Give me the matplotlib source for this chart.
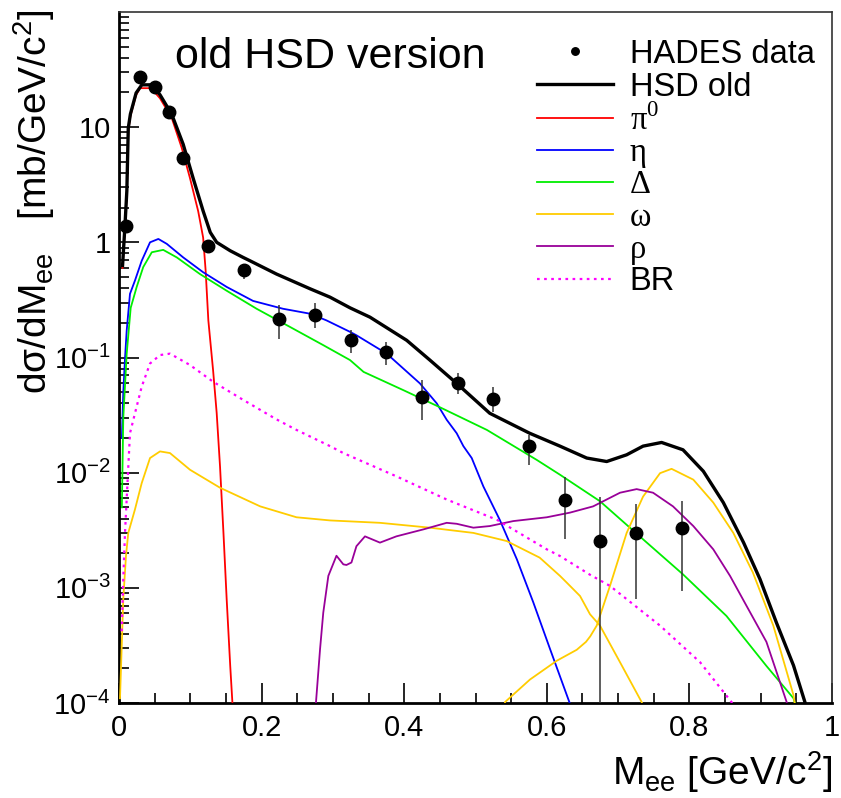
import numpy as np
import matplotlib
matplotlib.use('Agg')
import matplotlib.pyplot as plt
from matplotlib.ticker import MultipleLocator, FixedLocator, NullFormatter

plt.rcParams['font.family'] = ['Liberation Sans', 'DejaVu Sans']
plt.rcParams['mathtext.fontset'] = 'custom'
plt.rcParams['mathtext.rm'] = 'Liberation Sans'
plt.rcParams['mathtext.it'] = 'Liberation Sans:italic'
plt.rcParams['mathtext.bf'] = 'Liberation Sans:bold'

# HADES data points with asymmetric errors
data_m = [0.010, 0.030, 0.050, 0.070, 0.090, 0.125, 0.175, 0.225, 0.275, 0.325,
          0.375, 0.425, 0.475, 0.525, 0.575, 0.625, 0.675, 0.725, 0.790]
data_y = [1.39, 27.5, 22.1, 13.5, 5.4, 0.92, 0.57, 0.214, 0.232, 0.141,
          0.111, 0.0454, 0.060, 0.0437, 0.0171, 0.00585, 0.00254, 0.0030, 0.00328]
data_lo = [1.25, 26.0, 21.0, 12.8, 5.1, 0.82, 0.48, 0.144, 0.179, 0.109,
           0.086, 0.0287, 0.048, 0.0337, 0.0117, 0.00264, 1e-5, 0.0008, 0.00094]
data_hi = [1.55, 29.0, 23.2, 14.2, 5.7, 1.02, 0.65, 0.283, 0.300, 0.172,
           0.136, 0.064, 0.073, 0.055, 0.0213, 0.0092, 0.0062, 0.0053, 0.0057]

# HSD old total
hsd_m = [0.005, 0.0085, 0.011, 0.013, 0.016, 0.024, 0.032, 0.046, 0.0575, 0.074,
         0.090, 0.104, 0.118, 0.128, 0.137, 0.156, 0.174, 0.184, 0.221, 0.268,
         0.296, 0.324, 0.352, 0.4035, 0.436, 0.4736, 0.520, 0.576, 0.6185, 0.656,
         0.684, 0.712, 0.735, 0.761, 0.791, 0.8195, 0.8476, 0.876, 0.899, 0.922,
         0.946, 0.962, 0.970]
hsd_y = [0.63, 1.45, 2.8, 9.8, 13.0, 19.8, 23.3, 23.3, 19.1, 12.9,
         7.1, 3.6, 1.87, 1.22, 1.0, 0.845, 0.74, 0.69, 0.53, 0.395,
         0.334, 0.27, 0.224, 0.141, 0.095, 0.0596, 0.0328, 0.022, 0.017, 0.0134,
         0.0125, 0.0143, 0.017, 0.0183, 0.0158, 0.0103, 0.0055, 0.00247, 0.00119, 0.0005,
         0.000212, 0.000102, 0.00005]

# pi0 Dalitz
pi0_m = [0.005, 0.0085, 0.011, 0.013, 0.016, 0.024, 0.0295, 0.045, 0.0575, 0.074,
         0.088, 0.0996, 0.111, 0.1136, 0.118, 0.1215, 0.1253, 0.132, 0.137, 0.1417,
         0.1465, 0.151, 0.156, 0.159, 0.161]
pi0_y = [0.6, 1.4, 2.7, 9.3, 12.5, 19.0, 21.8, 21.8, 17.8, 12.0,
         6.6, 3.6, 1.87, 1.54, 1.1, 0.57, 0.21, 0.077, 0.033, 0.0113,
         0.003, 0.0008, 0.00021, 0.000102, 0.00005]

# eta Dalitz
eta_m = [0.004, 0.006, 0.0085, 0.0108, 0.0154, 0.0224, 0.0318, 0.0435, 0.0552, 0.067,
         0.090, 0.118, 0.151, 0.188, 0.230, 0.268, 0.291, 0.324, 0.333, 0.3755,
         0.422, 0.4456, 0.4596, 0.4736, 0.483, 0.4947, 0.511, 0.534, 0.558, 0.581,
         0.6045, 0.6316, 0.640]
eta_y = [0.02, 0.05, 0.1, 0.172, 0.357, 0.466, 0.69, 1.0, 1.07, 0.97,
         0.74, 0.55, 0.41, 0.31, 0.265, 0.24, 0.21, 0.167, 0.156, 0.108,
         0.0596, 0.040, 0.0288, 0.022, 0.017, 0.0134, 0.0076, 0.0039, 0.00177, 0.00075,
         0.000295, 0.000102, 0.00007]

# Delta Dalitz
delta_m = [0.004, 0.006, 0.0108, 0.0164, 0.0248, 0.034, 0.046, 0.062, 0.081, 0.1136,
           0.151, 0.193, 0.240, 0.2865, 0.324, 0.343, 0.399, 0.450, 0.516, 0.586,
           0.6185, 0.6746, 0.735, 0.791, 0.852, 0.908, 0.946, 0.950]
delta_y = [0.005, 0.03, 0.108, 0.27, 0.41, 0.61, 0.82, 0.86, 0.74, 0.53,
           0.38, 0.265, 0.184, 0.128, 0.095, 0.075, 0.052, 0.037, 0.0235, 0.0129,
           0.0096, 0.00565, 0.00264, 0.00131, 0.00057, 0.00021, 0.00011, 0.00009]

# omega Dalitz
omd_m = [0.0014, 0.006, 0.0098, 0.013, 0.0224, 0.0318, 0.0435, 0.0575, 0.0715, 0.0996,
         0.1417, 0.198, 0.249, 0.296, 0.366, 0.436, 0.497, 0.5437, 0.590, 0.6185,
         0.628, 0.6466, 0.6606, 0.6746, 0.7027, 0.733, 0.740]
omd_y = [0.00011, 0.0008, 0.0019, 0.003, 0.0048, 0.0081, 0.0134, 0.0153, 0.0148, 0.0106,
         0.0074, 0.0051, 0.0041, 0.00385, 0.00367, 0.00333, 0.003, 0.00255, 0.00183, 0.00127,
         0.00111, 0.00085, 0.00059, 0.00047, 0.000226, 0.000102, 0.00008]

# omega direct
omg_m = [0.540, 0.5414, 0.5764, 0.614, 0.642, 0.655, 0.661, 0.670, 0.6886, 0.712,
         0.735, 0.7588, 0.775, 0.8055, 0.8335, 0.8616, 0.889, 0.9177, 0.946, 0.950]
omg_y = [0.00008, 0.000102, 0.00016, 0.000233, 0.00029, 0.00034, 0.00038, 0.00047, 0.00104, 0.003,
         0.0062, 0.0099, 0.0108, 0.0087, 0.0055, 0.003, 0.00136, 0.00047, 0.000117, 0.00008]

# rho
rho_m = [0.275, 0.2763, 0.282, 0.2865, 0.2936, 0.305, 0.3146, 0.319, 0.326, 0.333,
         0.345, 0.366, 0.389, 0.427, 0.4596, 0.4736, 0.497, 0.520, 0.553, 0.600,
         0.6325, 0.665, 0.7027, 0.726, 0.749, 0.777, 0.8055, 0.8335, 0.857, 0.880,
         0.908, 0.9364, 0.940]
rho_y = [0.00008, 0.000102, 0.000295, 0.00061, 0.00127, 0.0019, 0.0016, 0.00158, 0.00166, 0.0023,
         0.0028, 0.00247, 0.0028, 0.00322, 0.00367, 0.0036, 0.00333, 0.00344, 0.0038, 0.0041,
         0.0045, 0.0051, 0.0067, 0.0072, 0.0067, 0.0051, 0.00344, 0.00216, 0.00127, 0.0007,
         0.00034, 0.000102, 0.00008]

# bremsstrahlung
br_m = [0.0038, 0.006, 0.0084, 0.0154, 0.0224, 0.0318, 0.0435, 0.0575, 0.0715, 0.0996,
        0.132, 0.1743, 0.221, 0.249, 0.296, 0.3146, 0.389, 0.4596, 0.530, 0.600,
        0.6185, 0.6606, 0.6886, 0.7588, 0.815, 0.859, 0.870]
br_y = [0.00042, 0.0012, 0.003, 0.022, 0.0328, 0.0557, 0.0887, 0.105, 0.108, 0.086,
        0.0616, 0.0428, 0.029, 0.0235, 0.017, 0.0148, 0.0093, 0.00585, 0.0039, 0.00216,
        0.00189, 0.0013, 0.00104, 0.00047, 0.000226, 0.000102, 0.00008]

y_ticks = [1e-4, 1e-3, 1e-2, 1e-1, 1, 10]
y_ticklabels = [r'$\mathregular{10^{-4}}$', r'$\mathregular{10^{-3}}$',
                r'$\mathregular{10^{-2}}$', r'$\mathregular{10^{-1}}$', '1', '10']

fig = plt.figure(figsize=(8.41, 7.98), dpi=100)
ax = fig.add_axes([0.1415, 0.119, 0.8478, 0.866])

lw = 1.3
l_red, = ax.plot(pi0_m, pi0_y, color='#ff0000', lw=lw, zorder=3)
l_blue, = ax.plot(eta_m, eta_y, color='#0000ff', lw=lw, zorder=3)
l_green, = ax.plot(delta_m, delta_y, color='#00ee00', lw=lw, zorder=3)
l_omega, = ax.plot(omd_m, omd_y, color='#ffcc00', lw=lw, zorder=3)
ax.plot(omg_m, omg_y, color='#ffcc00', lw=lw, zorder=3)
l_rho, = ax.plot(rho_m, rho_y, color='#990099', lw=lw, zorder=3)
l_br, = ax.plot(br_m, br_y, color='#ff00ff', lw=lw + 0.3, ls=(0, (1.2, 2.0)), zorder=3)
l_hsd, = ax.plot(hsd_m, hsd_y, color='black', lw=2.4, zorder=4)

dy = np.array(data_y)
yerr = [dy - np.array(data_lo), np.array(data_hi) - dy]
eb = ax.errorbar(data_m, data_y, yerr=yerr, fmt='o', color='black', ms=9,
                 ecolor='#333333', elinewidth=1.1, capsize=0, zorder=5)

ax.set_xlim(0, 1)
ax.set_yscale('log')
ax.set_ylim(1e-4, 1e2)

ax.xaxis.set_minor_locator(MultipleLocator(0.05))
ax.set_xticks([0, 0.2, 0.4, 0.6, 0.8, 1.0], ['0', '0.2', '0.4', '0.6', '0.8', '1'])
ax.yaxis.set_major_locator(FixedLocator(y_ticks))
ax.set_yticklabels(y_ticklabels)
ax.yaxis.set_minor_locator(FixedLocator(
    [m * 10.0 ** e for e in range(-4, 2) for m in range(2, 10)]))
ax.yaxis.set_minor_formatter(NullFormatter())

ax.tick_params(which='both', direction='in', top=False, right=False,
               labelsize=21, width=1.2, color='black')
ax.tick_params(which='major', length=14.5)
ax.tick_params(which='minor', length=7.5)
ax.tick_params(axis='x', pad=8)
ax.tick_params(axis='y', pad=6)

for side in ['left', 'bottom']:
    ax.spines[side].set_linewidth(2.0)
for side in ['top', 'right']:
    ax.spines[side].set_linewidth(1.2)
    ax.spines[side].set_color('#333333')

ax.text(0.0785, 0.919, 'old HSD version', transform=ax.transAxes,
        fontsize=31, ha='left', va='baseline')

fig.text(0.989, 0.016, r'M$_{\mathregular{ee}}$ [GeV/c$^{\mathregular{2}}$]',
         fontsize=28, ha='right', va='baseline')
fig.text(0.040, 0.988, r'd$\mathregular{\sigma}$/dM$_{\mathregular{ee}}$   [mb/GeV/c$^{\mathregular{2}}$]',
         fontsize=28, ha='center', va='top', rotation=90)

handles = [eb[0], l_hsd, l_red, l_blue, l_green, l_omega, l_rho, l_br]
labels = ['HADES data', 'HSD old', r'π$^{\mathregular{0}}$', 'η', 'Δ', 'ω', 'ρ', 'BR']
leg = ax.legend(handles, labels, loc='upper left', bbox_to_anchor=(0.586, 0.961),
                frameon=False, fontsize=23.5, handlelength=2.33, handletextpad=0.52,
                labelspacing=0.05, borderpad=0, borderaxespad=0, markerscale=0.6)
for t in leg.get_texts()[2:7]:
    t.set_fontfamily(['Liberation Serif', 'DejaVu Serif'])

fig.savefig('out.png', dpi=100)
